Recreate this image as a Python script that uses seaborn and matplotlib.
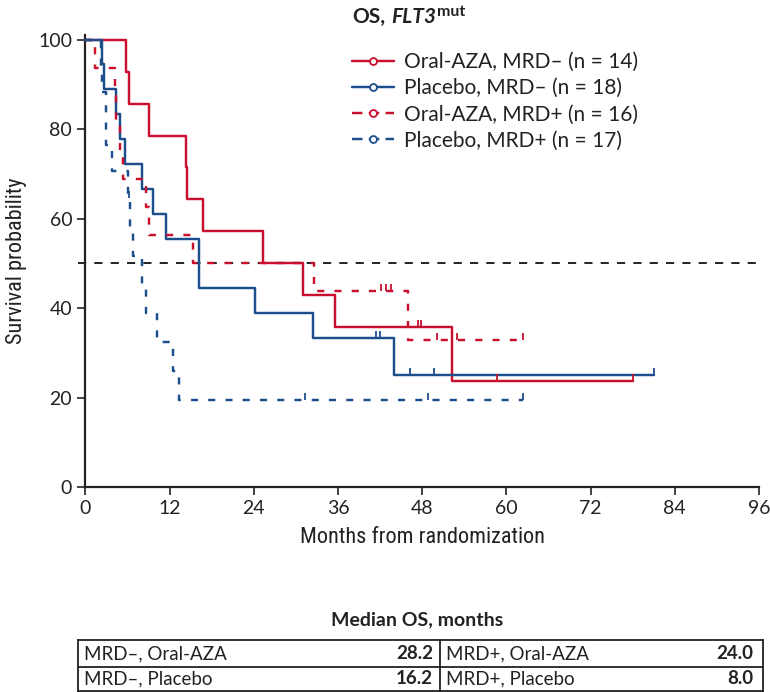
import numpy as np
import pandas as pd
import matplotlib
matplotlib.use("Agg")
import matplotlib.pyplot as plt
import seaborn as sns
from matplotlib import font_manager
from matplotlib.path import Path
from matplotlib.markers import MarkerStyle
from matplotlib.lines import Line2D

# ---------------- data ----------------
group_labels = ["Oral-AZA, MRD– (n = 14)", "Placebo, MRD– (n = 18)",
                "Oral-AZA, MRD+ (n = 16)", "Placebo, MRD+ (n = 17)"]

aza_neg_time = [5.8, 6.2, 9.0, 14.3, 14.5, 16.7, 25.3, 31.0, 35.6, 47.4, 47.9, 52.3, 58.6, 78.0]
aza_neg_event = [1, 1, 1, 1, 1, 1, 1, 1, 1, 0, 0, 1, 0, 0]

pbo_neg_time = [2.4, 2.6, 4.4, 5.0, 5.7, 8.0, 9.7, 11.5, 16.2, 16.2, 24.1, 32.5,
                41.4, 42.0, 44.0, 46.3, 49.7, 81.1]
pbo_neg_event = [1, 1, 1, 1, 1, 1, 1, 1, 1, 1, 1, 1, 0, 0, 1, 0, 0, 0]

aza_pos_time = [1.4, 4.2, 4.3, 4.9, 5.4, 8.7, 9.0, 15.3, 32.6, 42.1, 42.8, 43.5,
                46.0, 50.1, 52.9, 62.4]
aza_pos_event = [1, 1, 1, 1, 1, 1, 1, 1, 1, 0, 0, 0, 1, 0, 0, 0]

pbo_pos_time = [2.2, 2.4, 2.9, 2.9, 3.8, 6.0, 6.2, 6.4, 6.8, 8.0, 8.7, 10.2, 12.5,
                13.4, 31.3, 48.8, 62.3]
pbo_pos_event = [1, 1, 1, 1, 1, 1, 0, 1, 1, 1, 1, 1, 1, 1, 0, 0, 0]

x_ticks = [0, 12, 24, 36, 48, 60, 72, 84, 96]
y_ticks = [0, 20, 40, 60, 80, 100]
ref_line = 50

table_title = "Median OS, months"
table_labels = [["MRD–, Oral-AZA", "MRD+, Oral-AZA"], ["MRD–, Placebo", "MRD+, Placebo"]]
table_values = [["28.2", "24.0"], ["16.2", "8.0"]]

# ---------------- styles ----------------
RED = "#C8102E"
BLUE = "#1B4E8B"
INK = "#222222"
series = [
    (aza_neg_time, aza_neg_event, RED, "solid"),
    (pbo_neg_time, pbo_neg_event, BLUE, "solid"),
    (aza_pos_time, aza_pos_event, RED, "dashed"),
    (pbo_pos_time, pbo_pos_event, BLUE, "dashed"),
]

names = {f.name for f in font_manager.fontManager.ttflist}
BASE = "Lato" if "Lato" in names else "DejaVu Sans"
NARROW = None
for cand in ["Liberation Sans Narrow", "DejaVu Sans Condensed", "Roboto Condensed", "Open Sans Condensed"]:
    if cand in names:
        NARROW = cand
        break

sns.set_theme(style="ticks")
plt.rcParams["font.family"] = [BASE, "DejaVu Sans"]


def km_table(times, events):
    t = np.asarray(times, float)
    e = np.asarray(events, int)
    order = np.argsort(t, kind="stable")
    t, e = t[order], e[order]
    xs, ys = [0.0], [100.0]
    s = 1.0
    for ut in np.unique(t):
        at_risk = np.sum(t >= ut)
        d = np.sum((t == ut) & (e == 1))
        if d > 0:
            s *= 1 - d / at_risk
            xs.append(ut)
            ys.append(100 * s)
    xs.append(t.max())
    ys.append(100 * s)
    curve = pd.DataFrame({"month": xs, "surv": ys})
    cx, cy = [], []
    for ti, ei in zip(t, e):
        if ei == 0:
            cx.append(ti)
            cy.append(float(curve.loc[curve["month"] <= ti, "surv"].iloc[-1]))
    return curve, pd.DataFrame({"month": cx, "surv": cy})


W, H = 770, 692
fig = plt.figure(figsize=(W / 100, H / 100), dpi=100)
ax = fig.add_axes([85.4 / W, (H - 487.3) / H, 673.6 / W, 452.2 / H])

tick_marker = MarkerStyle(Path([(0, 0), (0, 1)], [Path.MOVETO, Path.LINETO]))
LW = 1.75
dash_pat = (0, (2.9, 4.2))

for times, events, col, ls in series:
    curve, cens = km_table(times, events)
    linestyle = "-" if ls == "solid" else dash_pat
    sns.lineplot(data=curve, x="month", y="surv", ax=ax, color=col, lw=LW,
                 drawstyle="steps-post", estimator=None, sort=False,
                 linestyle=linestyle, clip_on=False, zorder=3)
    ax.plot(cens["month"], cens["surv"], linestyle="none", marker=tick_marker,
            markersize=10, markeredgewidth=1.3, color=col, clip_on=False, zorder=4)

ax.plot([-1, 96], [ref_line, ref_line], color=INK, lw=1.4,
        linestyle=(0, (4.2, 4.2)), clip_on=False, zorder=2)

ax.set_xlim(0, 96)
ax.set_ylim(0, 101)
ax.set_xticks(x_ticks)
ax.set_yticks(y_ticks)
ax.tick_params(axis="both", length=5.5, width=1.2, color=INK,
               labelsize=14, labelcolor=INK, pad=4)
for side in ["top", "right"]:
    ax.spines[side].set_visible(False)
for side in ["left", "bottom"]:
    ax.spines[side].set_linewidth(1.6)
    ax.spines[side].set_color(INK)

lab_font = dict(family=[NARROW, "DejaVu Sans"] if NARROW else [BASE],
                size=16 if NARROW else 14.5, color=INK)
ax.set_xlabel("Months from randomization", labelpad=7, **lab_font)
ax.set_ylabel("Survival probability", labelpad=8, **lab_font)

# legend
handles = []
for times, events, col, ls in series:
    handles.append(Line2D([], [], color=col, lw=LW,
                          linestyle="-" if ls == "solid" else (0, (4.3, 2.6)),
                          marker="o", markersize=5, markeredgewidth=1.3,
                          markerfacecolor="white", markeredgecolor=col))
leg = fig.legend(handles, group_labels, loc="upper left",
                 bbox_to_anchor=(352 / W, 1 - 52 / H), frameon=False,
                 fontsize=15, handlelength=2.0, handletextpad=0.52,
                 labelspacing=0.3, borderpad=0, borderaxespad=0)
for txt in leg.get_texts():
    txt.set_color(INK)

# title
fig.canvas.draw()
r = fig.canvas.get_renderer()
ty = 1 - 23 / H
t1 = fig.text(352 / W, ty, "OS,", fontsize=15, fontweight="bold", va="baseline", color=INK)
bb = t1.get_window_extent(r)
t2 = fig.text((bb.x1 + 6) / W, ty, "FLT3", fontsize=15, fontweight="bold",
              fontstyle="italic", va="baseline", color=INK)
bb2 = t2.get_window_extent(r)
fig.text((bb2.x1 + 1) / W, ty + 7 / H, "mut", fontsize=11.5, fontweight="bold",
         va="baseline", color=INK)

# table
tax = fig.add_axes([0, 0, 1, 1], zorder=-1)
tax.set_xlim(0, W)
tax.set_ylim(H, 0)
tax.axis("off")
left, mid, right = 78, 440, 763
top, rowline, bottom = 640, 667, 690.5
tax.text(417, 620, table_title, ha="center", va="center",
         fontsize=14, fontweight="bold", color=INK)
for xs_, ys_ in [([left, right], [top, top]), ([left, right], [rowline, rowline]),
                 ([left, right], [bottom, bottom]), ([left, left], [top, bottom]),
                 ([mid, mid], [top, bottom]), ([right, right], [top, bottom])]:
    tax.plot(xs_, ys_, color=INK, lw=1.3, solid_capstyle="projecting")
row_c = [(top + rowline) / 2, (rowline + bottom) / 2]
col_l = [left + 6, mid + 6]
col_r = [mid - 7, right - 10]
for i in range(2):
    for j in range(2):
        tax.text(col_l[j], row_c[i], table_labels[i][j], ha="left", va="center",
                 fontsize=13.5, color=INK)
        tax.text(col_r[j], row_c[i], table_values[i][j], ha="right", va="center",
                 fontsize=13.5, fontweight="bold", color=INK)

fig.savefig("out.png", dpi=100)
